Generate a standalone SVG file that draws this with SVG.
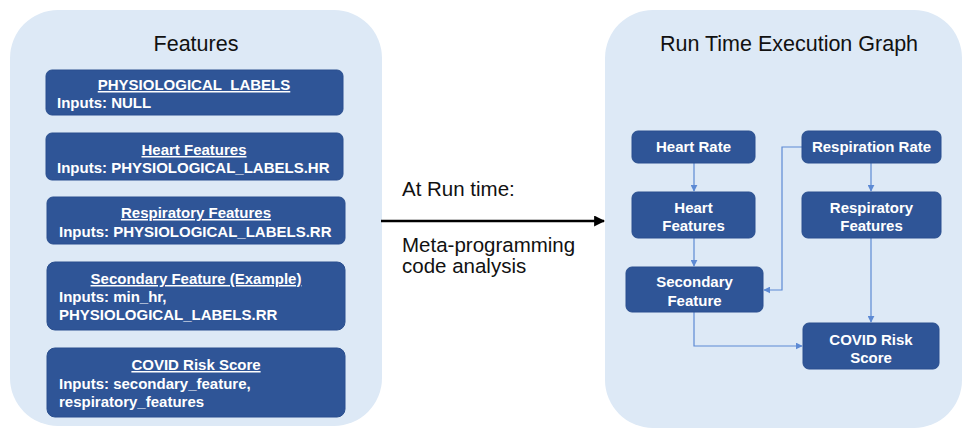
<svg xmlns="http://www.w3.org/2000/svg" width="966" height="430" viewBox="0 0 966 430">
  <style>
    .panel { fill: #dde9f6; }
    .box { fill: #2f5597; stroke: #2a4f8f; stroke-width: 1; }
    .title { font-family: "Liberation Sans", Arial, sans-serif; font-size: 21.5px; fill: #111; }
    .note { font-family: "Liberation Sans", Arial, sans-serif; font-size: 20.5px; fill: #111; }
    .bt { font-family: "Liberation Sans", Arial, sans-serif; font-size: 15px; font-weight: bold; fill: #ffffff; }
    .u { text-decoration: underline; }
    .nt { font-family: "Liberation Sans", Arial, sans-serif; font-size: 15px; font-weight: bold; fill: #ffffff; text-anchor: middle; }
    .edge { fill: none; stroke: #5d8ad4; stroke-width: 1.2; }
  </style>
  <defs>
    <marker id="arrowSmall" viewBox="0 0 10 10" refX="9" refY="5" markerWidth="7" markerHeight="7" markerUnits="userSpaceOnUse" orient="auto">
      <path d="M0,0 L10,5 L0,10 z" fill="#5d8ad4"/>
    </marker>
    <marker id="arrowBig" viewBox="0 0 10 10" refX="9" refY="5" markerWidth="11" markerHeight="11" markerUnits="userSpaceOnUse" orient="auto">
      <path d="M0,0 L10,5 L0,10 z" fill="#000"/>
    </marker>
  </defs>

  <rect width="966" height="430" fill="#ffffff"/>

  <!-- Left panel: feature definitions -->
  <g id="features-panel">
    <rect class="panel" x="10" y="10" width="372" height="416" rx="48"/>
    <text class="title" x="196" y="51" text-anchor="middle">Features</text>
  </g>

  <g id="physiological-labels">
    <rect class="box" x="46" y="70" width="297" height="45" rx="6"/>
    <text class="bt u" x="194" y="90" text-anchor="middle">PHYSIOLOGICAL_LABELS</text>
    <text class="bt" x="57" y="108">Inputs: NULL</text>
  </g>

  <g id="heart-features-def">
    <rect class="box" x="46" y="133" width="297" height="47" rx="6"/>
    <text class="bt u" x="194" y="155" text-anchor="middle">Heart Features</text>
    <text class="bt" x="57" y="173">Inputs: PHYSIOLOGICAL_LABELS.HR</text>
  </g>

  <g id="respiratory-features-def">
    <rect class="box" x="47" y="197" width="298" height="47" rx="6"/>
    <text class="bt u" x="196" y="218" text-anchor="middle">Respiratory Features</text>
    <text class="bt" x="59" y="237">Inputs: PHYSIOLOGICAL_LABELS.RR</text>
  </g>

  <g id="secondary-feature-def">
    <rect class="box" x="47" y="262" width="298" height="68" rx="8"/>
    <text class="bt u" x="196" y="284" text-anchor="middle">Secondary Feature (Example)</text>
    <text class="bt" x="59" y="302">Inputs: min_hr,</text>
    <text class="bt" x="59" y="320">PHYSIOLOGICAL_LABELS.RR</text>
  </g>

  <g id="covid-risk-def">
    <rect class="box" x="47" y="348" width="298" height="69" rx="8"/>
    <text class="bt u" x="196" y="370" text-anchor="middle">COVID Risk Score</text>
    <text class="bt" x="59" y="389">Inputs: secondary_feature,</text>
    <text class="bt" x="59" y="407">respiratory_features</text>
  </g>

  <!-- Transition between the two panels -->
  <g id="runtime-transition">
    <text class="note" x="402" y="196">At Run time:</text>
    <line x1="381" y1="221" x2="604" y2="221" stroke="#000" stroke-width="2.5" marker-end="url(#arrowBig)"/>
    <text class="note" x="402" y="252">Meta-programming</text>
    <text class="note" x="402" y="273">code analysis</text>
  </g>

  <!-- Right panel: execution graph -->
  <g id="graph-panel">
    <rect class="panel" x="605" y="10" width="357" height="418" rx="48"/>
    <text class="title" x="789" y="51" text-anchor="middle">Run Time Execution Graph</text>
  </g>

  <g id="connectors">
    <path class="edge" d="M694,163 V191" marker-end="url(#arrowSmall)"/>
    <path class="edge" d="M871,163 V191" marker-end="url(#arrowSmall)"/>
    <path class="edge" d="M694,238 V266" marker-end="url(#arrowSmall)"/>
    <path class="edge" d="M802,147 H782 V290 H764" marker-end="url(#arrowSmall)"/>
    <path class="edge" d="M871,238 V322" marker-end="url(#arrowSmall)"/>
    <path class="edge" d="M694,312 V346 H802" marker-end="url(#arrowSmall)"/>
  </g>

  <g id="heart-rate">
    <rect class="box" x="632" y="131" width="123" height="32" rx="6"/>
    <text class="nt" x="693.5" y="152">Heart Rate</text>
  </g>

  <g id="respiration-rate">
    <rect class="box" x="802" y="131" width="139" height="32" rx="6"/>
    <text class="nt" x="871.5" y="152">Respiration Rate</text>
  </g>

  <g id="heart-features">
    <rect class="box" x="632" y="192" width="123" height="46" rx="6"/>
    <text class="nt" x="693.5" y="213">Heart</text>
    <text class="nt" x="693.5" y="231">Features</text>
  </g>

  <g id="respiratory-features">
    <rect class="box" x="802" y="192" width="139" height="46" rx="6"/>
    <text class="nt" x="871.5" y="213">Respiratory</text>
    <text class="nt" x="871.5" y="231">Features</text>
  </g>

  <g id="secondary-feature">
    <rect class="box" x="626" y="267" width="137" height="45" rx="6"/>
    <text class="nt" x="694.5" y="287">Secondary</text>
    <text class="nt" x="694.5" y="306">Feature</text>
  </g>

  <g id="covid-risk-score">
    <rect class="box" x="803" y="323" width="136" height="46" rx="6"/>
    <text class="nt" x="871" y="345">COVID Risk</text>
    <text class="nt" x="871" y="363">Score</text>
  </g>
</svg>
